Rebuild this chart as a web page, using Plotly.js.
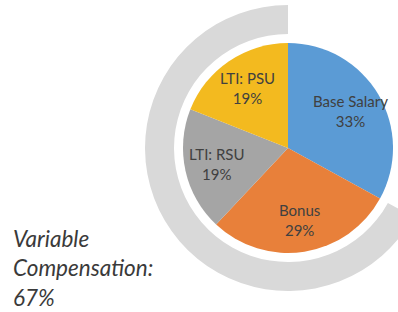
<!DOCTYPE html>
<html>
<head>
<meta charset="utf-8">
<script src="https://cdn.plot.ly/plotly-3.0.1.min.js"></script>
<style>
  html, body { margin: 0; padding: 0; overflow: hidden; background: #fff; }
  #chart { width: 440px; height: 312px; }
</style>
</head>
<body>
<div id="chart"></div>
<script>
// Data
const categories = ["Base Salary", "Bonus", "LTI: RSU", "LTI: PSU"];
const shares = [33, 29, 19, 19];
const sliceColors = ["#5B9BD5", "#E8803A", "#A5A5A5", "#F3BA1F"];
const ringLabels = ["Variable Compensation", "Fixed"];
const ringValues = [67, 33];
const ringText = ["Variable", "Compensation:", "67%"];

const W = 440, H = 312;
function px(x) { return x / W; }
function py(y) { return 1 - y / H; }

// Pie geometry (pixels)
const cx = 288, cy = 148, rPie = 105, rRing = 143, rRingIn = 114;

const pie = {
  type: "pie",
  labels: categories,
  values: shares,
  sort: false,
  direction: "clockwise",
  rotation: 0,
  marker: { colors: sliceColors, line: { width: 0 } },
  textinfo: "none",
  hoverinfo: "skip",
  showlegend: false,
  domain: { x: [px(cx - rPie), px(cx + rPie)], y: [py(cy + rPie), py(cy - rPie)] }
};

// Ring: the variable share runs counter-clockwise from 12 o'clock,
// drawn clockwise as [fixed (transparent), variable (grey)].
const ring = {
  type: "pie",
  labels: [ringLabels[1], ringLabels[0]],
  values: [ringValues[1], ringValues[0]],
  sort: false,
  direction: "clockwise",
  rotation: 0,
  hole: rRingIn / rRing,
  marker: { colors: ["rgba(0,0,0,0)", "#D9D9D9"], line: { width: 0 } },
  textinfo: "none",
  hoverinfo: "skip",
  showlegend: false,
  domain: { x: [px(cx - rRing), px(cx + rRing)], y: [py(cy + rRing), py(cy - rRing)] }
};

// Slice labels at mid-angle of each slice
const total = shares.reduce((a, b) => a + b, 0);
let cum = 0;
const sliceAnns = categories.map((c, i) => {
  const mid = (cum + shares[i] / 2) / total * 2 * Math.PI;
  cum += shares[i];
  const r = 0.69 * rPie;
  const x = cx + r * Math.sin(mid);
  const y = cy - r * Math.cos(mid);
  return {
    xref: "paper", yref: "paper",
    x: px(x), y: py(y),
    xanchor: "center", yanchor: "middle",
    showarrow: false,
    text: c + "<br>" + shares[i] + "%",
    font: { family: "Lato, 'Open Sans', sans-serif", size: 15, color: "#404040" }
  };
});

const layout = {
  width: W, height: H,
  margin: { l: 0, r: 0, t: 0, b: 0 },
  paper_bgcolor: "#ffffff",
  plot_bgcolor: "#ffffff",
  showlegend: false,
  annotations: sliceAnns.concat([{
    xref: "paper", yref: "paper",
    x: px(11), y: py(268),
    xanchor: "left", yanchor: "middle",
    align: "left",
    showarrow: false,
    text: ringText.map(t => "<i>" + t + "</i>").join("<br>"),
    font: { family: "Lato, 'Open Sans', sans-serif", size: 22.5, color: "#3A3A3A" }
  }])
};

Plotly.newPlot("chart", [ring, pie], layout, { staticPlot: true, displayModeBar: false });
</script>
</body>
</html>
